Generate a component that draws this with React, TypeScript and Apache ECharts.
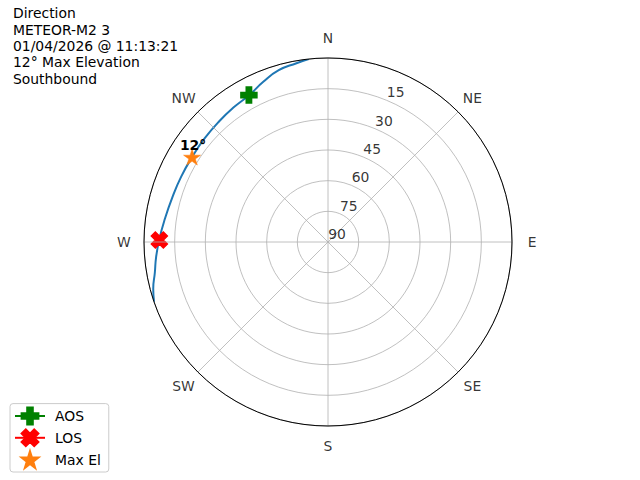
import React, { useEffect, useRef } from "react";
import * as echarts from "echarts";

// Track (azimuth in degrees clockwise from N, elevation in degrees)
const trackAz = [354, 350, 344, 338, 332, 325, 318, 310, 302, 294, 286, 278, 271, 265, 260, 255, 251];
const trackEl = [0, 1.2, 2.6, 5.5, 8.4, 9.6, 10.5, 11.2, 11.6, 11.4, 10.8, 9.4, 7.5, 5.6, 4.0, 1.5, 0];

const aosPoint = { az: 331.7, el: 8.4 };
const losPoint = { az: 270.7, el: 7.5 };
const maxElPoint = { az: 302, el: 11.6 };
const maxElLabel = "12°";

const dirLabels = ["N", "NE", "E", "SE", "S", "SW", "W", "NW"];
const dirAngles = [0, 45, 90, 135, 180, 225, 270, 315];
const dirLabelRadius = -9.9; // just outside the 0° elevation rim
const ringValues = [15, 30, 45, 60, 75, 90];
const ringLabelAngle = 22.5;

const titleLines = [
  "Direction",
  "METEOR-M2 3",
  "01/04/2026 @ 11:13:21",
  "12° Max Elevation",
  "Southbound",
];

const FONT = "DejaVu Sans";
const PLUS = "path://M-1,-3L1,-3L1,-1L3,-1L3,1L1,1L1,3L-1,3L-1,1L-3,1L-3,-1L-1,-1Z";
const XMARK = "path://M2,-4L4,-2L2,0L4,2L2,4L0,2L-2,4L-4,2L-2,0L-4,-2L-2,-4L0,-2Z";
const STAR =
  "path://M0,-1L0.2245,-0.309L0.951,-0.309L0.3633,0.118L0.5878,0.809L0,0.382L-0.5878,0.809L-0.3633,0.118L-0.951,-0.309L-0.2245,-0.309Z";

export default function App() {
  const ref = useRef<HTMLDivElement>(null);
  useEffect(() => {
    if (!ref.current) return;
    const chart = echarts.init(ref.current, null, { renderer: "svg" });
    const track = trackAz.map((a, i) => [trackEl[i], a]);
    chart.setOption({
      animation: false,
      backgroundColor: "#ffffff",
      textStyle: { fontFamily: FONT },
      title: {
        text: titleLines.join("\n"),
        left: 13,
        top: 5,
        padding: 0,
        textStyle: {
          fontFamily: FONT,
          fontSize: 13.9,
          fontWeight: "normal",
          color: "#000",
          lineHeight: 16.4,
        },
      },
      polar: { center: [328, 242], radius: 184 },
      angleAxis: {
        type: "value",
        min: 0,
        max: 360,
        interval: 45,
        startAngle: 90,
        clockwise: true,
        z: 5,
        axisLine: { show: true, lineStyle: { color: "#000", width: 1 } },
        axisTick: { show: false },
        axisLabel: { show: false },
        splitLine: { show: true, lineStyle: { color: "#b0b0b0", width: 0.8 } },
      },
      radiusAxis: {
        type: "value",
        min: 0,
        max: 90,
        interval: 15,
        inverse: true,
        axisLine: { show: false },
        axisTick: { show: false },
        axisLabel: { show: false },
        splitLine: { show: true, lineStyle: { color: "#b0b0b0", width: 0.8 } },
      },
      legend: {
        left: 10,
        bottom: 8,
        orient: "vertical",
        data: ["AOS", "LOS", "Max El"],
        itemWidth: 30,
        itemHeight: 21,
        itemGap: 3,
        padding: [3, 8, 3, 4],
        borderColor: "#cccccc",
        borderWidth: 1,
        borderRadius: 3,
        backgroundColor: "rgba(255,255,255,0.8)",
        textStyle: { fontFamily: FONT, fontSize: 13.9, color: "#000", padding: [0, 0, 0, 5] },
      },
      series: [
        {
          name: "track",
          type: "line",
          coordinateSystem: "polar",
          data: track,
          showSymbol: false,
          symbol: "none",
          smooth: true,
          lineStyle: { color: "#1f77b4", width: 2 },
          z: 3,
        },
        {
          name: "AOS",
          type: "line",
          coordinateSystem: "polar",
          data: [[aosPoint.el, aosPoint.az]],
          symbol: PLUS,
          symbolSize: 16,
          itemStyle: { color: "#008000", borderColor: "#008000", borderWidth: 1.5 },
          lineStyle: { color: "#008000", width: 2 },
          z: 4,
        },
        {
          name: "LOS",
          type: "line",
          coordinateSystem: "polar",
          data: [[losPoint.el, losPoint.az]],
          symbol: XMARK,
          symbolSize: 16,
          itemStyle: { color: "#ff0000", borderColor: "#ff0000", borderWidth: 1.5 },
          lineStyle: { color: "#ff0000", width: 2 },
          z: 4,
        },
        {
          name: "Max El",
          type: "line",
          coordinateSystem: "polar",
          data: [[maxElPoint.el, maxElPoint.az]],
          symbol: STAR,
          symbolSize: [17, 16],
          itemStyle: { color: "#ff7f0e", borderColor: "#ff7f0e", borderWidth: 0.5 },
          lineStyle: { color: "#ff7f0e", width: 0, opacity: 0 },
          label: {
            show: true,
            position: "top",
            distance: 0,
            offset: [1, 3],
            formatter: () => maxElLabel,
            fontFamily: FONT,
            fontSize: 13.9,
            fontWeight: "bold",
            color: "#000",
          },
          z: 4,
        },
        {
          name: "ringLabels",
          type: "scatter",
          coordinateSystem: "polar",
          data: ringValues.map((v) => [v, ringLabelAngle]),
          symbolSize: 0,
          silent: true,
          label: {
            show: true,
            position: "inside",
            offset: [9, -8],
            formatter: (p: any) => String(p.value[0]),
            fontFamily: FONT,
            fontSize: 13.9,
            color: "#000",
          },
          z: 6,
        },
        {
          name: "dirLabels",
          type: "scatter",
          coordinateSystem: "polar",
          data: dirAngles.map((a) => [dirLabelRadius, a]),
          symbolSize: 0,
          silent: true,
          clip: false,
          label: {
            show: true,
            position: "inside",
            formatter: (p: any) => dirLabels[p.dataIndex],
            fontFamily: FONT,
            fontSize: 13.9,
            color: "#000",
          },
          z: 6,
        },
      ],
    });
    return () => chart.dispose();
  }, []);
  return (
    <div
      ref={ref}
      style={{ position: "absolute", left: 0, top: 0, width: 640, height: 480 }}
    />
  );
}
